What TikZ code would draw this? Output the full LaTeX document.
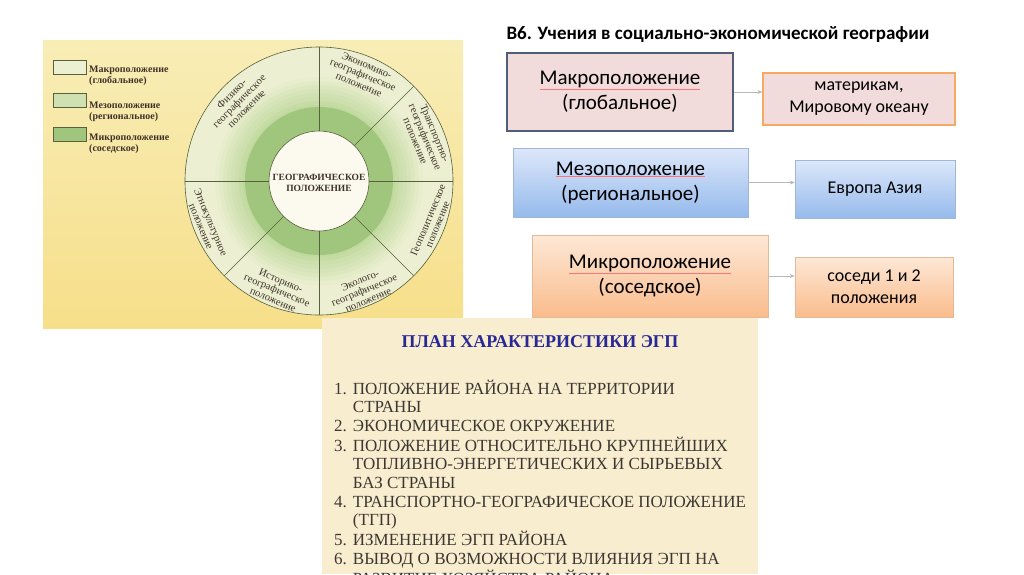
\documentclass[tikz,border=0pt]{standalone}
\usepackage{fontspec}
\setmainfont{Liberation Serif}
\newfontfamily\calibri{Carlito}
\usetikzlibrary{positioning,arrows.meta}

\definecolor{bgyellow}{RGB}{248,237,182}
\definecolor{bgyellowdark}{RGB}{247,223,138}
\definecolor{ringpale}{RGB}{236,239,210}
\definecolor{ringmid}{RGB}{190,216,155}
\definecolor{ringdark}{RGB}{160,198,126}
\definecolor{innerwhite}{RGB}{252,249,238}
\definecolor{circline}{RGB}{88,96,60}
\definecolor{booktext}{RGB}{62,50,40}
\definecolor{planbg}{RGB}{249,237,208}
\definecolor{planblue}{RGB}{40,40,150}
\definecolor{plantext}{RGB}{60,55,50}
\definecolor{macrofill}{RGB}{242,220,219}
\definecolor{macroline}{RGB}{80,92,120}
\definecolor{orangeline}{RGB}{244,170,100}
\definecolor{mesotop}{RGB}{220,232,250}
\definecolor{mesobot}{RGB}{150,186,236}
\definecolor{mesoline}{RGB}{160,182,215}
\definecolor{microtop}{RGB}{253,232,214}
\definecolor{microbot}{RGB}{250,188,140}
\definecolor{microline}{RGB}{230,185,150}

\newcommand{\spell}[1]{\textcolor{red!55}{\underline{\textcolor{black}{#1}}}}

\tikzset{
  sector/.style={font=\fontsize{10.5}{10.5}\selectfont, text=booktext, align=center, inner sep=0},
  legendbox/.style={draw=circline, minimum width=33, minimum height=14, inner sep=0},
  legendtext/.style={anchor=north west, font=\bfseries\fontsize{10}{11}\selectfont, text=booktext, align=left, inner sep=0},
  bigbox/.style={font=\calibri\fontsize{21}{25}\selectfont, align=center, inner sep=0},
  smallbox/.style={font=\calibri\fontsize{18}{22}\selectfont, align=center, inner sep=0},
  arr/.style={-{Stealth[length=5pt,width=4pt]}, draw=gray!55, line width=0.6pt}
}

\begin{document}
\begin{tikzpicture}[x=1pt,y=-1pt]
  \useasboundingbox (0,0) rectangle (1024,574);

  % book picture
  \shade[top color=bgyellow, bottom color=bgyellowdark] (43,40) rectangle (463,328);

  \node[legendbox, fill=ringpale] (macrokey) at (69.5,67.5) {};
  \node[legendbox, fill=ringmid!60!ringpale] (mesokey) at (69.5,100) {};
  \node[legendbox, fill=ringdark] (microkey) at (69.5,134) {};

  % label
  \node[legendtext] (macrokeylabel) at (89,66) {Макроположение\\(глобальное)};
  \node[legendtext] (mesokeylabel) at (89,101.5) {Мезоположение\\(региональное)};
  \node[legendtext] (microkeylabel) at (89,133.5) {Микроположение\\(соседское)};

  \begin{scope}[shift={(319,181)}, y=1pt]
    \fill[ringpale] (0,0) circle (134);
    \foreach \r [evaluate=\r as \p using int(10+(104-\r)*3)] in {104,100,96,92,88,84,80,76}
      \fill[ringmid!\p!ringpale] (0,0) circle (\r);
    \fill[ringdark] (0,0) circle (74);
    \foreach \a in {90,45,0,-45,-90,-135,180}
      \draw[circline, line width=0.6pt] (\a:50) -- (\a:134);
    \draw[circline, line width=0.6pt] (0,0) circle (134);
    \filldraw[fill=innerwhite, draw=circline, line width=0.6pt] (0,0) circle (50);
    \node[font=\bfseries\fontsize{9.5}{11}\selectfont, text=booktext, align=center] (geo) at (0,-1.5) {ГЕОГРАФИЧЕСКОЕ\\ПОЛОЖЕНИЕ};

    % label
    \node[sector, rotate=45] (phys) at (135:113) {Физико-\\географическое\\положение};
    \node[sector, rotate=-22.5] (econ) at (67.5:115) {Экономико-\\географическое\\положение};
    \node[sector, rotate=-67.5] (trans) at (22.5:115) {Транспортно-\\географическое\\положение};
    \node[sector, rotate=67.5] (geopol) at (-20:121) {Геополитическое\\положение};
    \node[sector, rotate=22.5] (ecol) at (-67.5:118) {Эколого-\\географическое\\положение};
    \node[sector, rotate=-22.5] (hist) at (-111:117) {Историко-\\географическое\\положение};
    \node[sector, rotate=-67.5] (ethno) at (-159:121) {Этнокультурное\\положение};
  \end{scope}

  % plan
  \fill[planbg] (322,318) rectangle (758,574);
  \node[font=\bfseries\fontsize{18}{20}\selectfont, text=planblue] (plantitle) at (540,342) {ПЛАН ХАРАКТЕРИСТИКИ ЭГП};
  \node[anchor=north west, inner sep=0, text=plantext, font=\fontsize{17}{18.6}\selectfont] (planlist) at (334,379.5) {%
    \begin{tabular}{@{}l@{\hspace{6pt}}l@{}}
      1. & ПОЛОЖЕНИЕ РАЙОНА НА ТЕРРИТОРИИ\\
         & СТРАНЫ\\
      2. & ЭКОНОМИЧЕСКОЕ ОКРУЖЕНИЕ\\
      3. & ПОЛОЖЕНИЕ ОТНОСИТЕЛЬНО КРУПНЕЙШИХ\\
         & ТОПЛИВНО-ЭНЕРГЕТИЧЕСКИХ И СЫРЬЕВЫХ\\
         & БАЗ СТРАНЫ\\
      4. & ТРАНСПОРТНО-ГЕОГРАФИЧЕСКОЕ ПОЛОЖЕНИЕ\\
         & (ТГП)\\
      5. & ИЗМЕНЕНИЕ ЭГП РАЙОНА\\
      6. & ВЫВОД О ВОЗМОЖНОСТИ ВЛИЯНИЯ ЭГП НА\\
         & РАЗВИТИЕ ХОЗЯЙСТВА РАЙОНА.
    \end{tabular}};

  % levels
  \node[anchor=west, font=\calibri\bfseries\fontsize{19}{21}\selectfont] (title) at (503,35) {В6. Учения в социально-экономической географии};

  \node[bigbox, fill=macrofill, draw=macroline, line width=1.2pt, minimum width=226, minimum height=78] (macro) at (620,92) {\spell{Макроположение}\\(глобальное)};
  \node[smallbox, fill=macrofill, draw=orangeline, line width=1.2pt, minimum width=192, minimum height=52] (macroex) at (859,99) {материкам,\\Мировому океану};

  \node[bigbox, top color=mesotop, bottom color=mesobot, draw=mesoline, minimum width=235, minimum height=69] (meso) at (630.5,182.5) {\spell{Мезоположение}\\(региональное)};
  \node[smallbox, top color=mesotop, bottom color=mesobot, draw=mesoline, minimum width=160, minimum height=58] (mesoex) at (875,189) {Европа Азия};

  \node[bigbox, top color=microtop, bottom color=microbot, draw=microline, minimum width=236, minimum height=82] (micro) at (650,276) {\spell{Микроположение}\\(соседское)};
  \node[smallbox, top color=microtop, bottom color=microbot, draw=microline, minimum width=158, minimum height=60] (microex) at (874,287) {соседи 1 и 2\\положения};

  \foreach \from/\to in {macro/macroex,meso/mesoex,micro/microex}
    \draw[arr] (\from.east) -- (\from.east -| \to.west);
\end{tikzpicture}
\end{document}
